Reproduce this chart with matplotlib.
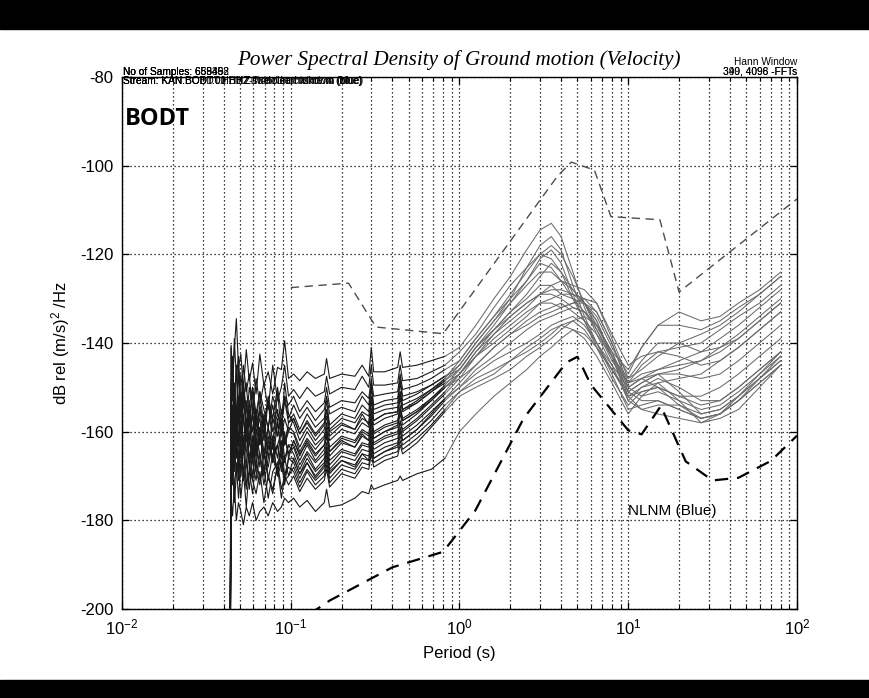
import matplotlib
matplotlib.use("Agg")
import matplotlib.pyplot as plt
import numpy as np
from matplotlib.ticker import LogLocator, FixedLocator, NullFormatter

plt.rcParams["font.family"] = ["Liberation Sans", "DejaVu Sans"]
plt.rcParams["mathtext.fontset"] = "custom"
plt.rcParams["mathtext.rm"] = "Liberation Sans"
plt.rcParams["mathtext.it"] = "Liberation Sans:italic"
plt.rcParams["mathtext.bf"] = "Liberation Sans:bold"
plt.rcParams["axes.unicode_minus"] = False

# ---- period sampling of the spectra (s) ----
period_hf = [0.0436, 0.0443, 0.0452, 0.0463, 0.0476, 0.0490, 0.0506, 0.0524, 0.0545, 0.0568,
             0.0594, 0.0623, 0.0656, 0.0693, 0.0735, 0.0782, 0.0835, 0.0880, 0.0920, 0.0970]
period_mid = [0.104, 0.113, 0.125, 0.140, 0.158, 0.163, 0.170, 0.200, 0.240, 0.265,
              0.290, 0.300, 0.310, 0.360, 0.430, 0.445, 0.460, 0.560, 0.680, 0.820]
period_lf = [1.0, 1.25, 1.6, 2.0, 2.5, 3.0, 3.5, 4.0, 4.7, 5.5, 6.5,
             8.0, 10.0, 12.0, 15.0, 20.0, 27.0, 35.0, 45.0, 60.0, 80.0]

# ---- PSD of each record (dB rel (m/s)^2/Hz): short, mid and long periods ----
psd_01 = [-230, -140.5, -147.5, -141.5, -134.5, -145.5, -142.5, -150.5, -141.5, -148.5, -144.5, -151.5, -142.5, -149.5, -146.5, -151.5, -145.5, -146, -139.5, -148,
          -147, -148.5, -146.5, -148, -147, -143.5, -148, -147, -147.5, -145, -147.5, -141, -146.5, -146.5, -145.5, -142, -145.5, -145, -144, -143,
          -141, -136, -130, -125, -119, -114.5, -113, -116, -124, -132, -138, -143, -148, -146, -143, -140, -138, -136, -133, -129, -125]
psd_02 = [-230, -141, -153, -139, -148, -143, -155, -145, -151, -147, -156, -148, -154, -149, -155, -145, -153, -150, -145, -152,
          -150.5, -152.5, -150, -152, -151, -147.5, -151.5, -150, -150.5, -147.5, -150, -145, -149.5, -149.5, -149, -145, -148.5, -148, -146.5, -145,
          -142, -138, -132, -127, -123, -120, -121, -124, -128, -131, -136, -142, -146, -141, -136, -136, -137, -135, -132, -129, -125]
psd_03 = [-230, -150, -143, -154, -145, -157, -147, -153, -149, -158, -150, -156, -151, -159, -152, -157, -150, -156, -152, -154,
          -152, -155.5, -153, -155.5, -153.5, -150, -154.5, -153, -153.5, -151, -152.5, -148, -152, -151.5, -151, -147, -150.5, -149.5, -148, -146,
          -144, -139, -134, -130, -126, -122, -123, -126, -130, -133, -137, -144, -149, -145, -142, -141, -140, -137, -134, -131, -127]
psd_04 = [-230, -157, -147, -151, -156, -145, -154, -149, -159, -150, -154, -158, -151, -155, -159, -152, -156, -158, -152, -157,
          -154, -157, -154.5, -157.5, -155, -152, -156, -154.5, -155.5, -152, -154, -149, -154, -153, -152.5, -148, -152, -151, -149.5, -147.5,
          -146, -141, -137, -133, -130, -127, -127, -129, -130, -131, -134, -141, -147, -141, -136, -133, -135, -134, -131, -128, -124]
psd_05 = [-230, -154, -148, -159, -146, -153, -160, -149, -155, -159, -151, -161, -154, -158, -153, -160, -156, -159, -153, -158,
          -156, -159.5, -156, -159, -157, -153, -158.5, -156, -157, -154, -155.5, -150, -155, -154, -153.5, -149, -153, -151.5, -149.5, -147.5,
          -145, -140, -135, -130, -123, -118, -116, -119, -127, -134, -140, -145, -150, -148, -146, -144, -142, -139, -136, -132, -128]
psd_06 = [-230, -149, -157, -153, -161, -146, -156, -151, -160, -154, -150, -159, -155, -162, -153, -158, -155, -161, -157, -160,
          -157, -160.5, -157.5, -160.5, -158, -155, -159.5, -157, -158, -155.5, -156.5, -152, -156, -155, -154.5, -151, -154, -152.5, -150.5, -148.5,
          -145, -140, -135, -131, -127, -124, -124, -126, -127, -128, -131, -138, -145, -143, -142, -143, -145, -144, -141, -137, -133]
psd_07 = [-230, -160, -158, -162, -156, -163, -158, -165, -157, -162, -156, -164, -155, -159, -153, -163, -151, -160, -149, -156,
          -158, -162, -159, -162, -159.5, -156.5, -161, -158.5, -159.5, -157, -158, -153, -157.5, -156, -155.5, -151.5, -155, -153.5, -151, -149,
          -147, -142, -138, -134, -131, -129, -129, -130, -132, -133, -136, -142, -150, -148, -147, -147, -148, -147, -144, -140, -136]
psd_08 = [-230, -155, -148, -158, -163, -152, -157, -165, -153, -160, -164, -155, -163, -158, -166, -157, -161, -155, -163, -159,
          -160, -163.5, -160, -163, -161, -158, -162, -159.5, -160.5, -158, -159, -155, -158.5, -157, -156, -152.5, -155.5, -153.5, -151, -148.5,
          -146, -141, -136, -131, -126, -121, -119, -122, -129, -135, -141, -146, -151, -149, -147, -146, -144, -141, -138, -134, -130]
psd_09 = [-230, -165, -157, -152, -162, -156, -164, -153, -159, -163, -155, -165, -160, -157, -164, -161, -166, -159, -163, -160,
          -160.5, -164.5, -161.5, -164, -161.5, -159, -163.5, -161, -162, -159.5, -160.5, -156, -160, -158.5, -157.5, -154, -157, -155, -152.5, -150,
          -148, -145, -141, -138, -136, -134, -133, -132, -131, -130, -131, -139, -148, -144, -140, -140, -142, -141, -139, -135, -131]
psd_10 = [-230, -152, -161, -166, -156, -162, -153, -165, -159, -156, -166, -160, -157, -165, -161, -167, -158, -164, -160, -166,
          -162, -165.5, -162, -165, -163, -160, -164.5, -161.5, -162.5, -160, -161, -157, -160.5, -159, -158, -155, -157.5, -155.5, -153, -150,
          -147, -143, -139, -136, -133, -131, -130, -129, -129, -130, -133, -140, -150, -152, -151, -153, -155, -154, -151, -147, -142]
psd_11 = [-230, -156, -165, -153, -160, -167, -158, -163, -168, -155, -162, -166, -160, -165, -159, -167, -163, -160, -166, -163,
          -163, -166.5, -163, -166.5, -164, -161, -165.5, -162.5, -163.5, -161, -162, -158, -161.5, -160, -159, -156, -158.5, -156, -153, -150,
          -147, -142, -137, -133, -129, -125, -122, -124, -130, -135, -140, -146, -152, -150, -149, -148, -147, -144, -141, -137, -133]
psd_12 = [-230, -163, -156, -167, -160, -153, -166, -162, -158, -168, -161, -165, -159, -169, -162, -166, -163, -168, -161, -165,
          -163.5, -167.5, -164.5, -167, -165, -162.5, -166.5, -164, -165, -162.5, -163, -159.5, -162.5, -161, -160, -157.5, -159.5, -157, -154, -151,
          -147, -143, -140, -137, -134, -131, -131, -132, -131, -131, -133, -140, -149, -148, -150, -152, -152, -150, -147, -143, -139]
psd_13 = [-230, -161, -168, -158, -165, -162, -170, -156, -164, -167, -161, -169, -159, -165, -168, -162, -170, -164, -167, -163,
          -165, -168.5, -165, -168.5, -166, -163.5, -167.5, -164.5, -165.5, -163, -163.5, -160, -163, -161.5, -160.5, -158, -160, -157.5, -154.5, -151.5,
          -148, -143, -138, -135, -132, -129, -127, -126, -128, -131, -135, -143, -153, -155, -154, -154, -156, -155, -152, -148, -144]
psd_14 = [-230, -155, -164, -169, -161, -166, -170, -162, -158, -167, -171, -161, -165, -170, -163, -166, -169, -162, -170, -166,
          -166, -169.5, -166, -169, -167, -164.5, -168.5, -165.5, -166.5, -164, -164.5, -161, -164, -162.5, -161.5, -159, -161, -158.5, -155.5, -152.5,
          -149, -145, -141, -138, -135, -133, -132, -131, -133, -135, -138, -145, -153, -150, -148, -150, -153, -153, -150, -146, -142]
psd_15 = [-230, -169, -162, -166, -159, -171, -164, -168, -173, -161, -167, -171, -165, -172, -166, -163, -170, -167, -172, -166,
          -167, -170.5, -167, -170.5, -168, -165.5, -169.5, -166.5, -167.5, -165, -165.5, -162, -165, -163.5, -162.5, -160, -162, -159.5, -156.5, -153,
          -150, -147, -144, -142, -140, -138, -136, -135, -134, -136, -140, -147, -155, -154, -153, -155, -157, -156, -153, -148, -144]
psd_16 = [-230, -165, -172, -162, -170, -166, -161, -171, -167, -173, -164, -169, -172, -165, -170, -174, -167, -165, -171, -170,
          -168, -171.5, -168.5, -171, -169, -166.5, -170.5, -167.5, -168.5, -166, -166.5, -163, -166, -164.5, -163.5, -161, -163, -160.5, -157.5, -154,
          -151, -149, -147, -144, -142, -140, -138, -136, -135, -137, -141, -148, -154, -151, -150, -152, -154, -153, -150, -146, -142]
psd_17 = [-230, -169, -165, -173, -167, -175, -168, -164, -172, -169, -174, -166, -171, -168, -175, -169, -167, -173, -170, -168,
          -169, -172.5, -169, -172, -170, -167.5, -171.5, -168.5, -169.5, -167, -167.5, -164, -167, -165.5, -164.5, -162, -164, -161.5, -158.5, -155,
          -151, -148, -146, -144, -141, -139, -137, -136, -137, -139, -143, -149, -156, -152, -149, -153, -158, -157, -155, -150, -145]
psd_18 = [-230, -173, -168, -176, -170, -167, -175, -169, -177, -168, -171, -174, -169, -176, -170, -173, -168, -175, -170, -172,
          -170, -173.5, -170.5, -173, -171, -168.5, -172.5, -169.5, -170.5, -168, -168.5, -165, -168, -166.5, -165.5, -163, -165, -162.5, -159, -155.5,
          -152, -150, -148, -146, -143, -141, -139, -137, -135, -134, -136, -142, -151, -149, -147, -151, -156, -155, -152, -148, -143]
psd_19 = [-230, -175, -179, -172, -180, -176, -178, -181, -177, -179, -176, -180, -178, -177, -179, -176, -178, -177, -175, -176,
          -175, -177, -175.5, -178, -176, -173, -177, -176.5, -175, -173.5, -174, -172, -173, -172, -171, -170, -171, -169.5, -168.5, -166,
          -160, -156, -152, -149, -146, -143, -141, -139, -137, -138, -141, -146, -152, -155, -156, -157, -158, -156, -152, -147, -143]
psd_20 = [-230, -152, -161, -149, -158, -163, -151, -157, -162, -153, -160, -155, -163, -156, -159, -154, -161, -157, -163, -158,
          -157, -160.5, -158, -161, -158.5, -155, -160, -158, -159.5, -156, -158.5, -152, -157.5, -156, -155.5, -151, -155, -153, -150.5, -148,
          -144, -139, -134, -129, -124, -120, -118, -120, -125, -131, -137, -143, -149, -147, -146, -145, -144, -142, -139, -135, -131]
psd_21 = [-230, -164, -154, -160, -166, -157, -152, -165, -159, -162, -167, -156, -161, -166, -159, -164, -157, -166, -161, -165,
          -162, -165, -162.5, -165.5, -163, -160, -164.5, -162, -163.5, -160.5, -162, -157.5, -161.5, -160, -158.5, -155, -157.5, -155.5, -152.5, -149.5,
          -146, -141, -137, -134, -131, -129, -128, -128, -129, -131, -135, -143, -151, -153, -153, -155, -157, -156, -153, -149, -145]
psd_22 = [-230, -164, -169, -160, -155, -168, -163, -171, -161, -165, -170, -162, -168, -159, -171, -165, -163, -169, -166, -170,
          -166, -169.5, -167, -170, -167.5, -164, -169, -166.5, -168, -165, -166.5, -162, -166, -164.5, -163, -159.5, -162, -159.5, -156, -152.5,
          -150, -146, -143, -140, -137, -135, -134, -133, -132, -133, -136, -143, -152, -151, -150, -154, -157, -156, -153, -149, -145]

records = [psd_01, psd_02, psd_03, psd_04, psd_05, psd_06, psd_07, psd_08, psd_09, psd_10, psd_11,
           psd_12, psd_13, psd_14, psd_15, psd_16, psd_17, psd_18, psd_19, psd_20, psd_21, psd_22]

# ---- Peterson noise models, velocity (dB) ----
nhnm_period = [0.1, 0.22, 0.32, 0.8, 3.8, 4.6, 6.3, 7.9, 15.4, 20.0, 100.0]
nhnm_db = [-127.5, -126.5, -136.4, -137.9, -102.4, -99.2, -101.0, -111.5, -112.2, -128.5, -107.5]
nlnm_period = [0.1, 0.17, 0.4, 0.8, 1.24, 2.4, 4.3, 5.0, 6.0, 10.0, 12.0, 15.6, 21.9, 31.6, 45.0, 70.0, 100.0]
nlnm_db = [-204.0, -198.1, -190.6, -187.1, -177.8, -157.0, -144.4, -143.1, -149.4, -159.7, -160.6,
           -154.2, -166.7, -171.0, -170.4, -166.6, -160.9]

y_ticks = [-200, -180, -160, -140, -120, -100, -80]

W, H = 870, 698
fig = plt.figure(figsize=(W / 100, H / 100), dpi=100)
fig.patch.set_facecolor("white")

# black bands at top and bottom of the frame
fig.add_artist(plt.Rectangle((0, 1 - 29 / H), 1, 29 / H, transform=fig.transFigure,
                             color="black", zorder=0))
fig.add_artist(plt.Rectangle((0, 0), 1, 18 / H, transform=fig.transFigure,
                             color="black", zorder=0))

ax = fig.add_axes([122 / W, 1 - 609 / H, (797 - 122) / W, (609 - 77) / H])

period_all = period_hf + period_mid + period_lf
n_short = len(period_hf) + len(period_mid)
for rec in records:
    # short periods drawn dark, long periods lighter grey
    ax.semilogx(period_all[:n_short], rec[:n_short], color="0.1", lw=0.8, zorder=3)
    ax.semilogx(period_all[n_short - 1:], rec[n_short - 1:], color="0.42", lw=0.75, zorder=3)

ax.semilogx(nhnm_period, nhnm_db, color="0.3", lw=1.0, ls=(0, (6, 4)), zorder=4)
ax.semilogx(nlnm_period, nlnm_db, color="black", lw=1.6, ls=(0, (6, 4)), zorder=4)

ax.set_xlim(0.01, 100)
ax.set_ylim(-200, -80)
ax.yaxis.set_major_locator(FixedLocator(y_ticks))
ax.xaxis.set_major_locator(LogLocator(base=10, numticks=10))
ax.xaxis.set_minor_locator(LogLocator(base=10, subs=np.arange(2, 10), numticks=50))
ax.xaxis.set_minor_formatter(NullFormatter())

ax.set_axisbelow(True)
ax.grid(True, which="major", axis="both", color="black", ls=(0, (1, 2.2)), lw=0.9)
ax.grid(True, which="minor", axis="x", color="black", ls=(0, (1, 2.2)), lw=0.9)

ax.tick_params(which="both", direction="in", top=True, right=True, labelsize=12, pad=6)
ax.tick_params(which="major", length=5, width=0.9)
ax.tick_params(which="minor", length=3, width=0.8)
for s in ax.spines.values():
    s.set_linewidth(1.0)
    s.set_color("black")

ax.set_xlabel("Period (s)", fontsize=12, labelpad=6)
ax.set_ylabel(r"dB rel (m/s)$^2$ /Hz", fontsize=12, labelpad=6)

fig.text(0.5275, 1 - 65 / H, "Power Spectral Density of Ground motion (Velocity)",
         ha="center", va="baseline", fontsize=15.2, style="italic", family="Liberation Serif")

# header annotations (overprinted from successive runs)
for t in ["No of Samples: 65536", "No of Samples: 688492", "No of Samples: 659458"]:
    fig.text(123 / W, 1 - 75 / H, t, fontsize=7.3, ha="left", va="baseline")
for t in ["Stream: KAN.BODT.00.BHZ-Tue.clean.window (blue)",
          "Stream: KAN.BODT.01.HHZ.stdnoise.cosine.m (blue)",
          "Stream: KAN.BOBDT.HH1.Zuv-dcUnnhinkowm (blue)"]:
    fig.text(123 / W, 1 - 84 / H, t, fontsize=7.3, ha="left", va="baseline")
fig.text(797 / W, 1 - 65 / H, "Hann Window", fontsize=7.3, ha="right", va="baseline")
for t in ["349, 4096 -FFTs", "390, 4098 -FFTs"]:
    fig.text(797 / W, 1 - 75 / H, t, fontsize=7.3, ha="right", va="baseline")

ax.text(0.0104, -89.4, "BODT", fontsize=17, fontweight="bold", family="Open Sans",
        ha="left", va="center", zorder=6)
ax.text(10.0, -178, "NLNM (Blue)", fontsize=11, ha="left", va="center", zorder=6)

fig.savefig("out.png", dpi=100, facecolor="white")
